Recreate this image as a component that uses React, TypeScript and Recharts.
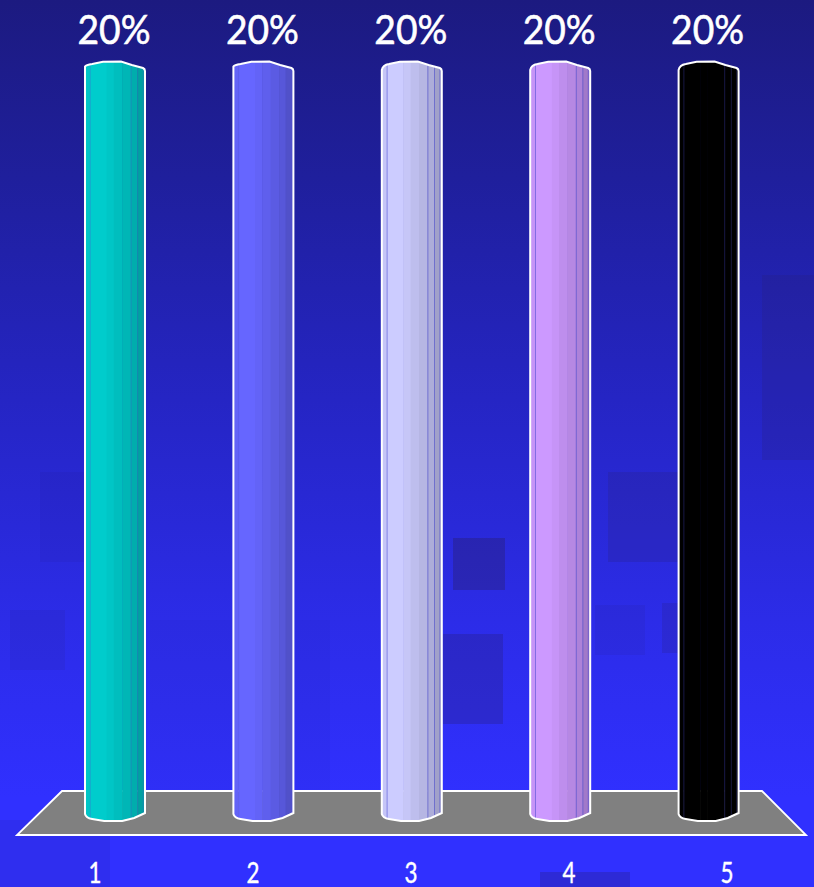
import { BarChart, Bar, XAxis, YAxis, LabelList, Cell } from 'recharts';

const categories = ['1', '2', '3', '4', '5'];
const shares = [20, 20, 20, 20, 20];
const barColors = ['#00cccc', '#6666ff', '#ccccff', '#cc99ff', '#000000'];

const chartData = categories.map((name, i) => ({ name, share: shares[i] }));

// faded squares of the slide background
const patches = [
  [762, 275, 52, 185, 0.22],
  [608, 472, 75, 90, 0.22],
  [453, 538, 52, 52, 0.42],
  [443, 634, 60, 90, 0.3],
  [40, 472, 50, 90, 0.08],
  [10, 610, 55, 60, 0.12],
  [150, 620, 180, 190, 0.06],
  [595, 605, 50, 50, 0.1],
  [662, 603, 30, 50, 0.2],
  [540, 872, 90, 15, 0.3],
  [0, 820, 110, 67, 0.12],
];

// cylinder shading: right edge of each band (share of width) and how bright it is
const bands = [
  [0.08, 0.97],
  [0.36, 1],
  [0.48, 0.97],
  [0.62, 0.93],
  [0.76, 0.89],
  [0.87, 0.85],
  [1, 0.79],
];
const seams = [0.08, 0.76, 0.87, 0.96];
const seamOpacity = [0.3, 0.25, 0.6, 0.6, 0.3];

function shade(hex: string, k: number) {
  const n = parseInt(hex.slice(1), 16);
  const c = [n >> 16, (n >> 8) & 255, n & 255].map((v) => Math.round(v * k));
  return `rgb(${c[0]},${c[1]},${c[2]})`;
}

function Cylinder(props: any) {
  const { x, y, width: w, height: h, fill, index } = props;
  const b = y + h;
  const drop = index < 2 ? 5.5 : 9;
  const outline = `M${x} ${y + drop} Q${x + 1} ${y + 4} ${x + w * 0.12} ${y + 3} L${x + w * 0.3} ${y + 0.8} L${x + w * 0.6} ${y + 0.5} L${x + w * 0.78} ${y + 4} L${x + w - 2} ${y + 7} Q${x + w} ${y + 8} ${x + w} ${y + 10} L${x + w} ${b - 8} L${x + w * 0.82} ${b - 3} L${x + w * 0.62} ${b} L${x + w * 0.32} ${b} L${x + w * 0.12} ${b - 2} Q${x + 1} ${b - 3} ${x} ${b - 7} Z`;
  let from = 0;
  return (
    <g>
      <clipPath id={`cyl-${index}`}>
        <path d={outline} />
      </clipPath>
      <g clipPath={`url(#cyl-${index})`}>
        {bands.map(([to, k]) => {
          const r = <rect key={to} x={x + w * from} y={y} width={w * (to - from) + 0.5} height={h} fill={shade(fill, k)} />;
          from = to;
          return r;
        })}
        {seams.map((s) => (
          <rect key={s} x={x + w * s} y={y} width={1} height={h} fill="#5050d0" opacity={seamOpacity[index]} />
        ))}
      </g>
      <path d={outline} fill="none" stroke="#ffffff" strokeWidth={2} />
    </g>
  );
}

// no narrow sans is installed, so the glyphs are squeezed to the reference width
function ShareLabel(props: any) {
  const { x, y, width, value } = props;
  return (
    <text
      x={x + width / 2 - 1}
      y={y - 17}
      textAnchor="middle"
      textLength={73}
      lengthAdjust="spacingAndGlyphs"
      fill="#ffffff"
      stroke="#ffffff"
      strokeWidth={0.6}
      fontSize={41}
      fontFamily="Lato"
    >
      {`${value}%`}
    </text>
  );
}

function CategoryTick(props: any) {
  const { x, y, payload } = props;
  return (
    <text
      x={x}
      y={y + 16}
      textAnchor="middle"
      textLength={13}
      lengthAdjust="spacingAndGlyphs"
      fill="#ffffff"
      stroke="#ffffff"
      strokeWidth={0.4}
      fontSize={28}
      fontFamily="Lato"
    >
      {payload.value}
    </text>
  );
}

export default function App() {
  return (
    <div
      style={{
        position: 'absolute',
        left: 0,
        top: 0,
        width: 814,
        height: 887,
        overflow: 'hidden',
        background: 'linear-gradient(180deg, #1c1a80 0%, #1f1f9c 20%, #2525c4 45%, #2c2ce8 70%, #3030ff 90%)',
      }}
    >
      {patches.map(([l, t, w, h, o], i) => (
        <div
          key={i}
          style={{ position: 'absolute', left: l, top: t, width: w, height: h, background: `rgba(40,30,120,${o})` }}
        />
      ))}
      <svg width={814} height={887} style={{ position: 'absolute', left: 0, top: 0 }}>
        <polygon points="62,791 762,791 806,835 17,835" fill="#808080" stroke="#ffffff" strokeWidth={1.8} />
      </svg>
      <div style={{ position: 'absolute', left: 0, top: 0 }}>
        <BarChart
          width={814}
          height={887}
          data={chartData}
          margin={{ top: 61, right: 8, bottom: 0, left: 16 }}
        >
          <YAxis hide domain={[0, 20]} />
          <XAxis
            xAxisId="labels"
            dataKey="name"
            height={66}
            axisLine={false}
            tickLine={false}
            tickMargin={10}
            interval={0}
            tick={<CategoryTick />}
          />
          <XAxis xAxisId="bars" dataKey="name" hide padding={{ left: 25, right: 23 }} />
          <Bar
            xAxisId="bars"
            dataKey="share"
            barSize={60}
            shape={<Cylinder />}
            isAnimationActive={false}
          >
            {chartData.map((d, i) => (
              <Cell key={d.name} fill={barColors[i]} />
            ))}
            <LabelList dataKey="share" content={<ShareLabel />} />
          </Bar>
        </BarChart>
      </div>
    </div>
  );
}
